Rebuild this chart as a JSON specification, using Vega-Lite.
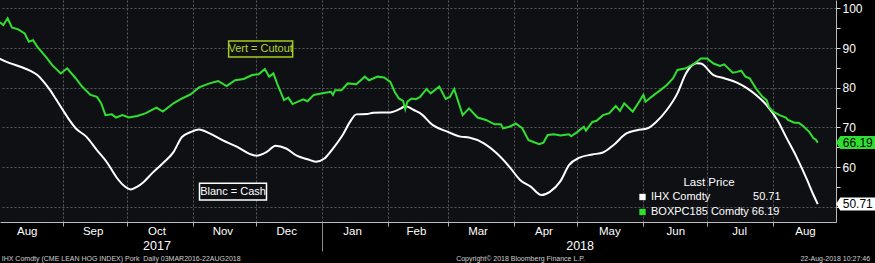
{
  "$schema": "https://vega.github.io/schema/vega-lite/v6.json",
  "width": 836,
  "height": 222,
  "autosize": {"type": "none"},
  "padding": {"left": 0, "top": 0, "right": 39, "bottom": 41},
  "background": "#000000",
  "config": {
    "font": "Liberation Sans",
    "view": {"fill": "#0f1014", "stroke": null},
    "axis": {"labelFont": "Liberation Sans", "titleFont": "Liberation Sans"},
    "legend": {"labelFont": "Liberation Sans", "titleFont": "Liberation Sans"}
  },
  "datasets": {
    "px": [
      {"series": "IHX Comdty", "date": "2017-08-02", "value": 87.4},
      {"series": "IHX Comdty", "date": "2017-08-07", "value": 86.2},
      {"series": "IHX Comdty", "date": "2017-08-12", "value": 85.3},
      {"series": "IHX Comdty", "date": "2017-08-17", "value": 84.2},
      {"series": "IHX Comdty", "date": "2017-08-20", "value": 83.2},
      {"series": "IHX Comdty", "date": "2017-08-23", "value": 81.5},
      {"series": "IHX Comdty", "date": "2017-08-26", "value": 79.4},
      {"series": "IHX Comdty", "date": "2017-08-29", "value": 76.9},
      {"series": "IHX Comdty", "date": "2017-09-01", "value": 74.4},
      {"series": "IHX Comdty", "date": "2017-09-04", "value": 71.9},
      {"series": "IHX Comdty", "date": "2017-09-07", "value": 69.8},
      {"series": "IHX Comdty", "date": "2017-09-12", "value": 67.7},
      {"series": "IHX Comdty", "date": "2017-09-17", "value": 64.3},
      {"series": "IHX Comdty", "date": "2017-09-22", "value": 61.0},
      {"series": "IHX Comdty", "date": "2017-09-26", "value": 57.6},
      {"series": "IHX Comdty", "date": "2017-09-30", "value": 55.2},
      {"series": "IHX Comdty", "date": "2017-10-03", "value": 54.4},
      {"series": "IHX Comdty", "date": "2017-10-06", "value": 55.1},
      {"series": "IHX Comdty", "date": "2017-10-09", "value": 56.3},
      {"series": "IHX Comdty", "date": "2017-10-13", "value": 58.5},
      {"series": "IHX Comdty", "date": "2017-10-18", "value": 61.0},
      {"series": "IHX Comdty", "date": "2017-10-23", "value": 63.8},
      {"series": "IHX Comdty", "date": "2017-10-27", "value": 67.6},
      {"series": "IHX Comdty", "date": "2017-10-31", "value": 68.8},
      {"series": "IHX Comdty", "date": "2017-11-04", "value": 69.5},
      {"series": "IHX Comdty", "date": "2017-11-09", "value": 68.5},
      {"series": "IHX Comdty", "date": "2017-11-15", "value": 66.8},
      {"series": "IHX Comdty", "date": "2017-11-22", "value": 65.1},
      {"series": "IHX Comdty", "date": "2017-11-28", "value": 63.3},
      {"series": "IHX Comdty", "date": "2017-12-01", "value": 62.9},
      {"series": "IHX Comdty", "date": "2017-12-06", "value": 63.9},
      {"series": "IHX Comdty", "date": "2017-12-10", "value": 65.4},
      {"series": "IHX Comdty", "date": "2017-12-15", "value": 64.7},
      {"series": "IHX Comdty", "date": "2017-12-20", "value": 62.9},
      {"series": "IHX Comdty", "date": "2017-12-25", "value": 62.0},
      {"series": "IHX Comdty", "date": "2017-12-29", "value": 61.4},
      {"series": "IHX Comdty", "date": "2018-01-02", "value": 62.2},
      {"series": "IHX Comdty", "date": "2018-01-06", "value": 64.7},
      {"series": "IHX Comdty", "date": "2018-01-11", "value": 68.5},
      {"series": "IHX Comdty", "date": "2018-01-14", "value": 71.4},
      {"series": "IHX Comdty", "date": "2018-01-17", "value": 73.3},
      {"series": "IHX Comdty", "date": "2018-01-22", "value": 73.4},
      {"series": "IHX Comdty", "date": "2018-01-25", "value": 73.7},
      {"series": "IHX Comdty", "date": "2018-02-02", "value": 73.8},
      {"series": "IHX Comdty", "date": "2018-02-07", "value": 74.8},
      {"series": "IHX Comdty", "date": "2018-02-09", "value": 75.4},
      {"series": "IHX Comdty", "date": "2018-02-13", "value": 74.4},
      {"series": "IHX Comdty", "date": "2018-02-16", "value": 73.6},
      {"series": "IHX Comdty", "date": "2018-02-22", "value": 70.6},
      {"series": "IHX Comdty", "date": "2018-03-01", "value": 68.9},
      {"series": "IHX Comdty", "date": "2018-03-07", "value": 67.7},
      {"series": "IHX Comdty", "date": "2018-03-11", "value": 67.5},
      {"series": "IHX Comdty", "date": "2018-03-18", "value": 66.0},
      {"series": "IHX Comdty", "date": "2018-03-24", "value": 63.5},
      {"series": "IHX Comdty", "date": "2018-03-30", "value": 60.1},
      {"series": "IHX Comdty", "date": "2018-04-04", "value": 56.8},
      {"series": "IHX Comdty", "date": "2018-04-09", "value": 55.1},
      {"series": "IHX Comdty", "date": "2018-04-14", "value": 53.0},
      {"series": "IHX Comdty", "date": "2018-04-18", "value": 53.8},
      {"series": "IHX Comdty", "date": "2018-04-23", "value": 56.5},
      {"series": "IHX Comdty", "date": "2018-04-27", "value": 60.5},
      {"series": "IHX Comdty", "date": "2018-05-02", "value": 62.4},
      {"series": "IHX Comdty", "date": "2018-05-08", "value": 63.2},
      {"series": "IHX Comdty", "date": "2018-05-13", "value": 63.7},
      {"series": "IHX Comdty", "date": "2018-05-18", "value": 65.6},
      {"series": "IHX Comdty", "date": "2018-05-24", "value": 68.5},
      {"series": "IHX Comdty", "date": "2018-05-29", "value": 69.3},
      {"series": "IHX Comdty", "date": "2018-06-03", "value": 69.8},
      {"series": "IHX Comdty", "date": "2018-06-07", "value": 71.4},
      {"series": "IHX Comdty", "date": "2018-06-12", "value": 74.4},
      {"series": "IHX Comdty", "date": "2018-06-17", "value": 78.6},
      {"series": "IHX Comdty", "date": "2018-06-21", "value": 83.6},
      {"series": "IHX Comdty", "date": "2018-06-24", "value": 85.7},
      {"series": "IHX Comdty", "date": "2018-06-26", "value": 86.2},
      {"series": "IHX Comdty", "date": "2018-06-28", "value": 86.1},
      {"series": "IHX Comdty", "date": "2018-07-04", "value": 83.2},
      {"series": "IHX Comdty", "date": "2018-07-09", "value": 82.4},
      {"series": "IHX Comdty", "date": "2018-07-15", "value": 81.3},
      {"series": "IHX Comdty", "date": "2018-07-20", "value": 79.8},
      {"series": "IHX Comdty", "date": "2018-07-24", "value": 78.2},
      {"series": "IHX Comdty", "date": "2018-07-29", "value": 75.6},
      {"series": "IHX Comdty", "date": "2018-08-03", "value": 71.9},
      {"series": "IHX Comdty", "date": "2018-08-07", "value": 67.7},
      {"series": "IHX Comdty", "date": "2018-08-12", "value": 62.6},
      {"series": "IHX Comdty", "date": "2018-08-17", "value": 56.8},
      {"series": "IHX Comdty", "date": "2018-08-20", "value": 53.0},
      {"series": "IHX Comdty", "date": "2018-08-22", "value": 50.71},
      {"series": "BOXPC185 Comdty", "date": "2017-08-02", "value": 96.6},
      {"series": "BOXPC185 Comdty", "date": "2017-08-04", "value": 95.8},
      {"series": "BOXPC185 Comdty", "date": "2017-08-06", "value": 97.5},
      {"series": "BOXPC185 Comdty", "date": "2017-08-08", "value": 95.2},
      {"series": "BOXPC185 Comdty", "date": "2017-08-11", "value": 94.7},
      {"series": "BOXPC185 Comdty", "date": "2017-08-14", "value": 93.7},
      {"series": "BOXPC185 Comdty", "date": "2017-08-16", "value": 91.6},
      {"series": "BOXPC185 Comdty", "date": "2017-08-18", "value": 92.0},
      {"series": "BOXPC185 Comdty", "date": "2017-08-20", "value": 90.3},
      {"series": "BOXPC185 Comdty", "date": "2017-08-24", "value": 87.8},
      {"series": "BOXPC185 Comdty", "date": "2017-08-27", "value": 85.7},
      {"series": "BOXPC185 Comdty", "date": "2017-08-31", "value": 83.6},
      {"series": "BOXPC185 Comdty", "date": "2017-09-03", "value": 84.9},
      {"series": "BOXPC185 Comdty", "date": "2017-09-07", "value": 82.4},
      {"series": "BOXPC185 Comdty", "date": "2017-09-10", "value": 80.3},
      {"series": "BOXPC185 Comdty", "date": "2017-09-14", "value": 78.2},
      {"series": "BOXPC185 Comdty", "date": "2017-09-17", "value": 77.7},
      {"series": "BOXPC185 Comdty", "date": "2017-09-19", "value": 76.1},
      {"series": "BOXPC185 Comdty", "date": "2017-09-21", "value": 73.1},
      {"series": "BOXPC185 Comdty", "date": "2017-09-24", "value": 73.3},
      {"series": "BOXPC185 Comdty", "date": "2017-09-26", "value": 72.5},
      {"series": "BOXPC185 Comdty", "date": "2017-09-29", "value": 73.1},
      {"series": "BOXPC185 Comdty", "date": "2017-10-02", "value": 72.5},
      {"series": "BOXPC185 Comdty", "date": "2017-10-06", "value": 72.9},
      {"series": "BOXPC185 Comdty", "date": "2017-10-10", "value": 73.6},
      {"series": "BOXPC185 Comdty", "date": "2017-10-15", "value": 75.0},
      {"series": "BOXPC185 Comdty", "date": "2017-10-18", "value": 74.0},
      {"series": "BOXPC185 Comdty", "date": "2017-10-23", "value": 76.1},
      {"series": "BOXPC185 Comdty", "date": "2017-10-27", "value": 77.3},
      {"series": "BOXPC185 Comdty", "date": "2017-10-31", "value": 78.3},
      {"series": "BOXPC185 Comdty", "date": "2017-11-04", "value": 80.1},
      {"series": "BOXPC185 Comdty", "date": "2017-11-09", "value": 81.1},
      {"series": "BOXPC185 Comdty", "date": "2017-11-13", "value": 81.7},
      {"series": "BOXPC185 Comdty", "date": "2017-11-17", "value": 80.4},
      {"series": "BOXPC185 Comdty", "date": "2017-11-21", "value": 81.9},
      {"series": "BOXPC185 Comdty", "date": "2017-11-25", "value": 82.2},
      {"series": "BOXPC185 Comdty", "date": "2017-11-29", "value": 83.2},
      {"series": "BOXPC185 Comdty", "date": "2017-12-02", "value": 83.4},
      {"series": "BOXPC185 Comdty", "date": "2017-12-05", "value": 84.7},
      {"series": "BOXPC185 Comdty", "date": "2017-12-07", "value": 82.8},
      {"series": "BOXPC185 Comdty", "date": "2017-12-09", "value": 83.6},
      {"series": "BOXPC185 Comdty", "date": "2017-12-11", "value": 80.7},
      {"series": "BOXPC185 Comdty", "date": "2017-12-14", "value": 76.9},
      {"series": "BOXPC185 Comdty", "date": "2017-12-16", "value": 77.5},
      {"series": "BOXPC185 Comdty", "date": "2017-12-18", "value": 75.9},
      {"series": "BOXPC185 Comdty", "date": "2017-12-23", "value": 77.1},
      {"series": "BOXPC185 Comdty", "date": "2017-12-25", "value": 76.6},
      {"series": "BOXPC185 Comdty", "date": "2017-12-28", "value": 78.2},
      {"series": "BOXPC185 Comdty", "date": "2018-01-01", "value": 78.6},
      {"series": "BOXPC185 Comdty", "date": "2018-01-05", "value": 79.0},
      {"series": "BOXPC185 Comdty", "date": "2018-01-06", "value": 78.2},
      {"series": "BOXPC185 Comdty", "date": "2018-01-07", "value": 79.4},
      {"series": "BOXPC185 Comdty", "date": "2018-01-10", "value": 79.4},
      {"series": "BOXPC185 Comdty", "date": "2018-01-13", "value": 81.1},
      {"series": "BOXPC185 Comdty", "date": "2018-01-17", "value": 80.9},
      {"series": "BOXPC185 Comdty", "date": "2018-01-21", "value": 82.8},
      {"series": "BOXPC185 Comdty", "date": "2018-01-23", "value": 81.9},
      {"series": "BOXPC185 Comdty", "date": "2018-01-27", "value": 82.8},
      {"series": "BOXPC185 Comdty", "date": "2018-01-30", "value": 82.6},
      {"series": "BOXPC185 Comdty", "date": "2018-02-02", "value": 81.5},
      {"series": "BOXPC185 Comdty", "date": "2018-02-04", "value": 79.0},
      {"series": "BOXPC185 Comdty", "date": "2018-02-06", "value": 77.3},
      {"series": "BOXPC185 Comdty", "date": "2018-02-08", "value": 76.7},
      {"series": "BOXPC185 Comdty", "date": "2018-02-09", "value": 74.6},
      {"series": "BOXPC185 Comdty", "date": "2018-02-10", "value": 76.5},
      {"series": "BOXPC185 Comdty", "date": "2018-02-12", "value": 77.3},
      {"series": "BOXPC185 Comdty", "date": "2018-02-14", "value": 77.1},
      {"series": "BOXPC185 Comdty", "date": "2018-02-16", "value": 77.7},
      {"series": "BOXPC185 Comdty", "date": "2018-02-19", "value": 79.7},
      {"series": "BOXPC185 Comdty", "date": "2018-02-21", "value": 78.6},
      {"series": "BOXPC185 Comdty", "date": "2018-02-25", "value": 80.3},
      {"series": "BOXPC185 Comdty", "date": "2018-02-28", "value": 77.2},
      {"series": "BOXPC185 Comdty", "date": "2018-03-02", "value": 77.7},
      {"series": "BOXPC185 Comdty", "date": "2018-03-04", "value": 79.7},
      {"series": "BOXPC185 Comdty", "date": "2018-03-08", "value": 73.1},
      {"series": "BOXPC185 Comdty", "date": "2018-03-11", "value": 74.8},
      {"series": "BOXPC185 Comdty", "date": "2018-03-15", "value": 72.5},
      {"series": "BOXPC185 Comdty", "date": "2018-03-19", "value": 71.9},
      {"series": "BOXPC185 Comdty", "date": "2018-03-23", "value": 70.8},
      {"series": "BOXPC185 Comdty", "date": "2018-03-26", "value": 70.8},
      {"series": "BOXPC185 Comdty", "date": "2018-03-27", "value": 69.8},
      {"series": "BOXPC185 Comdty", "date": "2018-03-30", "value": 70.2},
      {"series": "BOXPC185 Comdty", "date": "2018-04-02", "value": 71.0},
      {"series": "BOXPC185 Comdty", "date": "2018-04-05", "value": 69.8},
      {"series": "BOXPC185 Comdty", "date": "2018-04-08", "value": 66.8},
      {"series": "BOXPC185 Comdty", "date": "2018-04-10", "value": 66.4},
      {"series": "BOXPC185 Comdty", "date": "2018-04-13", "value": 65.8},
      {"series": "BOXPC185 Comdty", "date": "2018-04-15", "value": 66.2},
      {"series": "BOXPC185 Comdty", "date": "2018-04-17", "value": 68.1},
      {"series": "BOXPC185 Comdty", "date": "2018-04-20", "value": 68.3},
      {"series": "BOXPC185 Comdty", "date": "2018-04-23", "value": 68.0},
      {"series": "BOXPC185 Comdty", "date": "2018-04-27", "value": 68.3},
      {"series": "BOXPC185 Comdty", "date": "2018-04-28", "value": 67.8},
      {"series": "BOXPC185 Comdty", "date": "2018-05-01", "value": 68.9},
      {"series": "BOXPC185 Comdty", "date": "2018-05-04", "value": 70.2},
      {"series": "BOXPC185 Comdty", "date": "2018-05-05", "value": 69.2},
      {"series": "BOXPC185 Comdty", "date": "2018-05-08", "value": 71.4},
      {"series": "BOXPC185 Comdty", "date": "2018-05-10", "value": 71.7},
      {"series": "BOXPC185 Comdty", "date": "2018-05-13", "value": 73.1},
      {"series": "BOXPC185 Comdty", "date": "2018-05-16", "value": 73.6},
      {"series": "BOXPC185 Comdty", "date": "2018-05-19", "value": 75.4},
      {"series": "BOXPC185 Comdty", "date": "2018-05-21", "value": 74.2},
      {"series": "BOXPC185 Comdty", "date": "2018-05-23", "value": 76.1},
      {"series": "BOXPC185 Comdty", "date": "2018-05-27", "value": 74.0},
      {"series": "BOXPC185 Comdty", "date": "2018-05-30", "value": 76.5},
      {"series": "BOXPC185 Comdty", "date": "2018-06-01", "value": 78.2},
      {"series": "BOXPC185 Comdty", "date": "2018-06-02", "value": 76.5},
      {"series": "BOXPC185 Comdty", "date": "2018-06-06", "value": 78.2},
      {"series": "BOXPC185 Comdty", "date": "2018-06-09", "value": 79.4},
      {"series": "BOXPC185 Comdty", "date": "2018-06-12", "value": 80.7},
      {"series": "BOXPC185 Comdty", "date": "2018-06-15", "value": 82.4},
      {"series": "BOXPC185 Comdty", "date": "2018-06-17", "value": 84.5},
      {"series": "BOXPC185 Comdty", "date": "2018-06-21", "value": 84.9},
      {"series": "BOXPC185 Comdty", "date": "2018-06-25", "value": 86.1},
      {"series": "BOXPC185 Comdty", "date": "2018-06-28", "value": 87.4},
      {"series": "BOXPC185 Comdty", "date": "2018-07-01", "value": 87.4},
      {"series": "BOXPC185 Comdty", "date": "2018-07-04", "value": 86.1},
      {"series": "BOXPC185 Comdty", "date": "2018-07-07", "value": 85.5},
      {"series": "BOXPC185 Comdty", "date": "2018-07-09", "value": 85.9},
      {"series": "BOXPC185 Comdty", "date": "2018-07-13", "value": 83.8},
      {"series": "BOXPC185 Comdty", "date": "2018-07-15", "value": 84.0},
      {"series": "BOXPC185 Comdty", "date": "2018-07-17", "value": 84.3},
      {"series": "BOXPC185 Comdty", "date": "2018-07-19", "value": 82.8},
      {"series": "BOXPC185 Comdty", "date": "2018-07-21", "value": 82.4},
      {"series": "BOXPC185 Comdty", "date": "2018-07-24", "value": 79.8},
      {"series": "BOXPC185 Comdty", "date": "2018-07-27", "value": 77.7},
      {"series": "BOXPC185 Comdty", "date": "2018-07-29", "value": 76.9},
      {"series": "BOXPC185 Comdty", "date": "2018-07-30", "value": 75.2},
      {"series": "BOXPC185 Comdty", "date": "2018-08-01", "value": 74.0},
      {"series": "BOXPC185 Comdty", "date": "2018-08-04", "value": 73.1},
      {"series": "BOXPC185 Comdty", "date": "2018-08-07", "value": 72.5},
      {"series": "BOXPC185 Comdty", "date": "2018-08-08", "value": 71.9},
      {"series": "BOXPC185 Comdty", "date": "2018-08-11", "value": 71.2},
      {"series": "BOXPC185 Comdty", "date": "2018-08-13", "value": 71.2},
      {"series": "BOXPC185 Comdty", "date": "2018-08-15", "value": 70.4},
      {"series": "BOXPC185 Comdty", "date": "2018-08-18", "value": 68.9},
      {"series": "BOXPC185 Comdty", "date": "2018-08-20", "value": 67.3},
      {"series": "BOXPC185 Comdty", "date": "2018-08-21", "value": 67.0},
      {"series": "BOXPC185 Comdty", "date": "2018-08-22", "value": 66.19}
    ],
    "notes": [
      {"note": "Vert = Cutout", "date": "2017-12-03", "value": 89.75},
      {"note": "Blanc = Cash", "date": "2017-11-20", "value": 53.85}
    ]
  },
  "encoding": {
    "y": {
      "field": "value",
      "type": "quantitative",
      "scale": {"domain": [46.2, 102.1], "nice": false, "zero": false},
      "axis": {
        "orient": "right",
        "title": null,
        "values": [50, 55, 60, 65, 70, 75, 80, 85, 90, 95, 100],
        "labelExpr": "datum.value % 10 == 0 && datum.value > 50 ? datum.label : ''",
        "grid": true,
        "gridColor": "#5a5a5a",
        "gridDash": [2, 2],
        "gridOpacity": {"condition": {"test": "datum.value % 10 == 0", "value": 1}, "value": 0},
        "tickSize": 4,
        "tickColor": "#dddddd",
        "domainColor": "#bbbbbb",
        "labelColor": "#ffffff",
        "labelFontSize": 12,
        "labelPadding": 2,
        "labelBaseline": "middle"
      }
    }
  },
  "layer": [
    {
      "data": {"name": "px"},
      "transform": [{"filter": "datum.series == 'IHX Comdty'"}],
      "mark": {"type": "line", "strokeWidth": 2, "interpolate": "monotone"},
      "encoding": {
        "x": {
          "field": "date", "type": "temporal",
          "scale": {"domain": [{"year": 2017, "month": 8, "date": 2, "hours": 10}, {"year": 2018, "month": 8, "date": 30, "hours": 14}]},
          "axis": {
            "orient": "bottom", "title": null, "labels": false,
            "values": [
              {"year": 2017, "month": 9, "date": 1}, {"year": 2017, "month": 10, "date": 1},
              {"year": 2017, "month": 11, "date": 1}, {"year": 2017, "month": 12, "date": 1},
              {"year": 2018, "month": 1, "date": 1}, {"year": 2018, "month": 2, "date": 1},
              {"year": 2018, "month": 3, "date": 1}, {"year": 2018, "month": 4, "date": 1},
              {"year": 2018, "month": 5, "date": 1}, {"year": 2018, "month": 6, "date": 1},
              {"year": 2018, "month": 7, "date": 1}, {"year": 2018, "month": 8, "date": 1}
            ],
            "grid": true, "gridColor": "#5a5a5a", "gridDash": [2, 2],
            "ticks": true, "tickSize": 4, "tickColor": "#aaaaaa",
            "domain": true, "domainColor": "#bbbbbb"
          }
        },
        "color": {
          "field": "series", "type": "nominal",
          "scale": {"domain": ["IHX Comdty", "BOXPC185 Comdty"], "range": ["#ffffff", "#30e030"]},
          "legend": {
            "orient": "none", "legendX": 637, "legendY": 177,
            "title": "Last Price", "titleColor": "#ffffff", "titleFontSize": 11.5,
            "titleFontWeight": "normal", "titleAnchor": "middle", "titlePadding": 3,
            "labelColor": "#ffffff", "labelFontSize": 11, "labelOffset": 3,
            "symbolType": "square", "symbolSize": 40, "symbolStrokeWidth": 0,
            "rowPadding": 3, "padding": 0,
            "labelExpr": "datum.label == 'IHX Comdty' ? 'IHX Comdty\u00a0\u00a0\u00a0\u00a0\u00a0\u00a0\u00a0\u00a0\u00a0\u00a0\u00a0\u00a0\u00a0\u00a050.71' : 'BOXPC185 Comdty 66.19'",
            "encode": {"symbols": {"update": {"fill": {"scale": "color", "field": "value"}, "stroke": {"value": "transparent"}, "shape": {"value": "square"}}}}
          }
        }
      }
    },
    {
      "data": {"name": "px"},
      "transform": [{"filter": "datum.series == 'BOXPC185 Comdty'"}],
      "mark": {"type": "line", "strokeWidth": 2},
      "encoding": {
        "x": {
          "field": "date", "type": "temporal",
          "scale": {"domain": [{"year": 2017, "month": 8, "date": 2, "hours": 10}, {"year": 2018, "month": 8, "date": 30, "hours": 14}]},
          "axis": {
            "orient": "bottom", "title": null, "format": "%b",
            "values": [
              {"year": 2017, "month": 8, "date": 15}, {"year": 2017, "month": 9, "date": 15},
              {"year": 2017, "month": 10, "date": 15}, {"year": 2017, "month": 11, "date": 15},
              {"year": 2017, "month": 12, "date": 15}, {"year": 2018, "month": 1, "date": 15},
              {"year": 2018, "month": 2, "date": 14}, {"year": 2018, "month": 3, "date": 15},
              {"year": 2018, "month": 4, "date": 15}, {"year": 2018, "month": 5, "date": 16},
              {"year": 2018, "month": 6, "date": 16}, {"year": 2018, "month": 7, "date": 16},
              {"year": 2018, "month": 8, "date": 16}
            ],
            "grid": false, "ticks": false, "tickSize": 0, "domain": false,
            "labelColor": "#ffffff", "labelFontSize": 11.5, "labelPadding": 3,
            "labelFlush": false, "labelOverlap": false, "labelBound": false
          }
        },
        "color": {"field": "series", "type": "nominal"}
      }
    },
    {
      "data": {"name": "px"},
      "transform": [
        {"joinaggregate": [{"op": "max", "field": "date", "as": "last"}], "groupby": ["series"]},
        {"filter": "time(datum.date) == time(datum.last)"}
      ],
      "mark": {"type": "point", "filled": true, "opacity": 1, "size": 400, "strokeWidth": 0,
               "shape": "M1.84,0 L2.25,-0.65 L6,-0.65 L6,0.65 L2.25,0.65 Z"},
      "encoding": {
        "x": {
          "field": "date", "type": "temporal",
          "scale": {"domain": [{"year": 2017, "month": 8, "date": 2, "hours": 10}, {"year": 2018, "month": 8, "date": 30, "hours": 14}]},
          "axis": {
            "orient": "bottom", "title": null, "format": "%Y",
            "values": [{"year": 2017, "month": 10, "date": 15}, {"year": 2018, "month": 5, "date": 2}],
            "grid": false, "ticks": false, "tickSize": 0, "domain": false,
            "labelColor": "#ffffff", "labelFontSize": 12.5, "labelPadding": 17,
            "labelFlush": false, "labelOverlap": false, "labelBound": false
          }
        },
        "fill": {
          "field": "series", "type": "nominal",
          "scale": {"domain": ["IHX Comdty", "BOXPC185 Comdty"], "range": ["#ffffff", "#30e030"]},
          "legend": null
        }
      }
    },
    {
      "data": {"name": "px"},
      "transform": [
        {"joinaggregate": [{"op": "max", "field": "date", "as": "last"}], "groupby": ["series"]},
        {"filter": "time(datum.date) == time(datum.last)"}
      ],
      "mark": {"type": "text", "dx": 40, "align": "center", "baseline": "middle", "fontSize": 12, "color": "#000000"},
      "encoding": {
        "x": {
          "field": "date", "type": "temporal",
          "scale": {"domain": [{"year": 2017, "month": 8, "date": 2, "hours": 10}, {"year": 2018, "month": 8, "date": 30, "hours": 14}]},
          "axis": {
            "orient": "bottom", "title": null,
            "values": [{"year": 2017, "month": 8, "date": 3}, {"year": 2018, "month": 4, "date": 4}, {"year": 2018, "month": 8, "date": 30}],
            "labelExpr": "year(datum.value) == 2017 ? 'IHX Comdty (CME LEAN HOG INDEX) Pork\u00a0\u00a0Daily 03MAR2016-22AUG2018' : month(datum.value) == 3 ? 'Copyright\u00a9 2018 Bloomberg Finance L.P.' : '22-Aug-2018 10:27:46'",
            "labelAlign": {"condition": {"test": "year(datum.value) == 2017", "value": "left"}, "value": "center"},
            "grid": false, "ticks": false, "tickSize": 0, "domain": false,
            "labelColor": "#d0d0d0", "labelFontSize": 7, "labelPadding": 32, "labelLimit": 0,
            "labelFlush": false, "labelOverlap": false, "labelBound": false
          }
        },
        "text": {"field": "value", "type": "quantitative", "format": ".2f"}
      }
    },
    {
      "data": {"name": "notes"},
      "transform": [{"filter": "datum.note == 'Vert = Cutout'"}],
      "mark": {"type": "point", "filled": true, "opacity": 1, "size": 4096, "fill": "#0f1014", "stroke": "#a4cc22", "strokeWidth": 1.5,
               "shape": "M-1,-0.25 L1,-0.25 L1,0.25 L-1,0.25 Z"},
      "encoding": {
        "x": {
          "field": "date", "type": "temporal",
          "scale": {"domain": [{"year": 2017, "month": 8, "date": 2, "hours": 10}, {"year": 2018, "month": 8, "date": 30, "hours": 14}]},
          "axis": {
            "orient": "bottom", "title": null, "labels": false,
            "values": [{"year": 2018, "month": 1, "date": 1}],
            "grid": false, "ticks": true, "tickSize": 29, "tickColor": "#8a8a8a", "domain": false
          }
        }
      }
    },
    {
      "data": {"name": "notes"},
      "transform": [{"filter": "datum.note == 'Vert = Cutout'"}],
      "mark": {"type": "text", "align": "center", "baseline": "middle", "fontSize": 11, "color": "#b0d632"},
      "encoding": {
        "x": {
          "field": "date", "type": "temporal",
          "scale": {"domain": [{"year": 2017, "month": 8, "date": 2, "hours": 10}, {"year": 2018, "month": 8, "date": 30, "hours": 14}]},
          "axis": null
        },
        "text": {"field": "note"}
      }
    },
    {
      "data": {"name": "notes"},
      "transform": [{"filter": "datum.note == 'Blanc = Cash'"}],
      "mark": {"type": "point", "filled": true, "opacity": 1, "size": 4489, "fill": "#0f1014", "stroke": "#ffffff", "strokeWidth": 1.5,
               "shape": "M-1,-0.25 L1,-0.25 L1,0.25 L-1,0.25 Z"},
      "encoding": {
        "x": {
          "field": "date", "type": "temporal",
          "scale": {"domain": [{"year": 2017, "month": 8, "date": 2, "hours": 10}, {"year": 2018, "month": 8, "date": 30, "hours": 14}]},
          "axis": null
        }
      }
    },
    {
      "data": {"name": "notes"},
      "transform": [{"filter": "datum.note == 'Blanc = Cash'"}],
      "mark": {"type": "text", "align": "center", "baseline": "middle", "fontSize": 11, "color": "#ffffff"},
      "encoding": {
        "x": {
          "field": "date", "type": "temporal",
          "scale": {"domain": [{"year": 2017, "month": 8, "date": 2, "hours": 10}, {"year": 2018, "month": 8, "date": 30, "hours": 14}]},
          "axis": null
        },
        "text": {"field": "note"}
      }
    }
  ],
  "resolve": {"axis": {"x": "independent"}}
}
